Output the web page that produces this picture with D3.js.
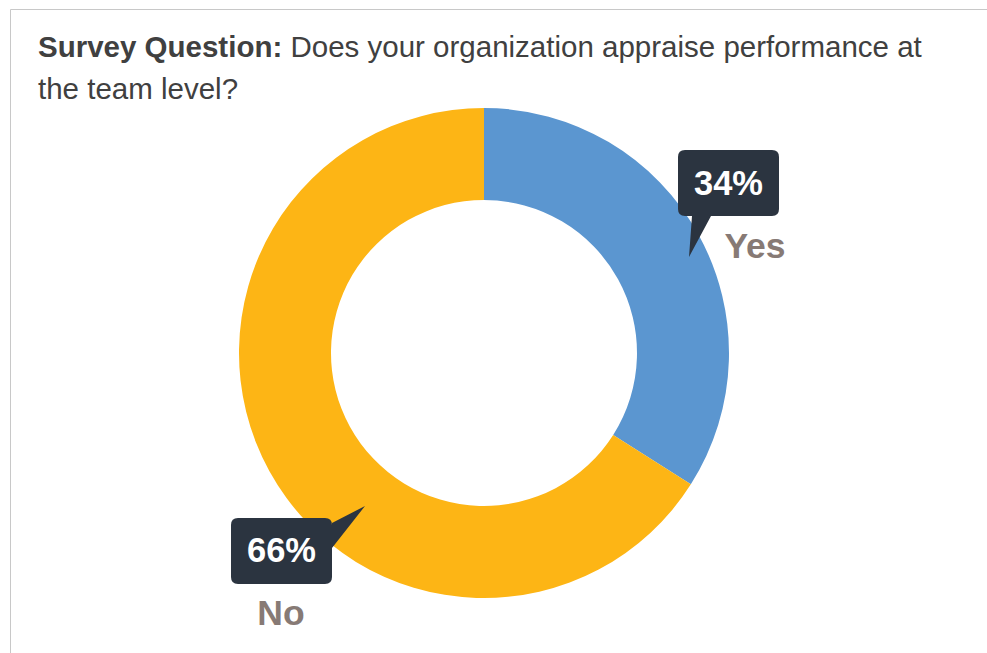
<!DOCTYPE html>
<html><head><meta charset="utf-8">
<script src="https://cdn.jsdelivr.net/npm/d3@7"></script>
<style>
html,body{margin:0;padding:0;background:#fff;}
svg{display:block;font-family:"Liberation Sans",Arial,sans-serif;}
</style></head>
<body>
<svg id="chart" width="987" height="653"></svg>
<script>
const categories = ["Yes", "No"];
const values = [34, 66];
const colors = ["#5b96d0", "#fdb515"];
const titleBold = "Survey Question:";
const titleLines = [" Does your organization appraise performance at", "the team level?"];

const svg = d3.select("#chart");
// frame
svg.append("path").attr("d","M10.5,653 V9.5 H987").attr("fill","none").attr("stroke","#c8c8c8").attr("stroke-width",1);

const title = svg.append("text").attr("x",38).attr("y",57).attr("font-size",29.5).attr("fill","#404040");
title.append("tspan").attr("font-weight","bold").text(titleBold);
title.append("tspan").text(titleLines[0]);
svg.append("text").attr("x",38).attr("y",99).attr("font-size",29.5).attr("fill","#404040").text(titleLines[1]);

const cx = 484, cy = 353, rOut = 245, rIn = 153;
const pie = d3.pie().sort(null).value(d=>d)(values);
const arc = d3.arc().innerRadius(rIn).outerRadius(rOut);
const g = svg.append("g").attr("transform",`translate(${cx},${cy})`);
g.selectAll("path.slice").data(pie).join("path").attr("class","slice")
  .attr("d",arc).attr("fill",(d,i)=>colors[i]);

// callouts
const bw = 101, bh = 66, rr = 7;
const callouts = [
  {box:[678,150], tip:[689,257], base:"bottom", b0:692, b1:711, label:[755,258], ty:195},
  {box:[231,518], tip:[365,506], base:"right", b0:523, b1:548, label:[281,625], ty:562}
];
function boxPath(c){
  const [x,y] = c.box, x2 = x+bw, y2 = y+bh;
  let p = `M${x+rr},${y} H${x2-rr} Q${x2},${y} ${x2},${y+rr}`;
  if(c.base==="right"){ p += ` V${c.b0} L${c.tip[0]},${c.tip[1]} L${x2},${c.b1}`; }
  p += ` V${y2-rr} Q${x2},${y2} ${x2-rr},${y2}`;
  if(c.base==="bottom"){ p += ` H${c.b1} L${c.tip[0]},${c.tip[1]} L${c.b0},${y2}`; }
  p += ` H${x+rr} Q${x},${y2} ${x},${y2-rr} V${y+rr} Q${x},${y} ${x+rr},${y} Z`;
  return p;
}
pie.forEach((d,i)=>{
  const c = callouts[i];
  svg.append("path").attr("d",boxPath(c)).attr("fill","#2b3440");
  svg.append("text").attr("x",c.box[0]+bw/2).attr("y",c.ty)
    .attr("text-anchor","middle").attr("font-size",34.5).attr("font-weight","bold")
    .attr("fill","#fff").text(values[i]+"%");
  svg.append("text").attr("x",c.label[0]).attr("y",c.label[1])
    .attr("text-anchor","middle").attr("font-size",35.5).attr("font-weight","bold")
    .attr("fill","#877a75").text(categories[i]);
});
</script>
</body></html>
